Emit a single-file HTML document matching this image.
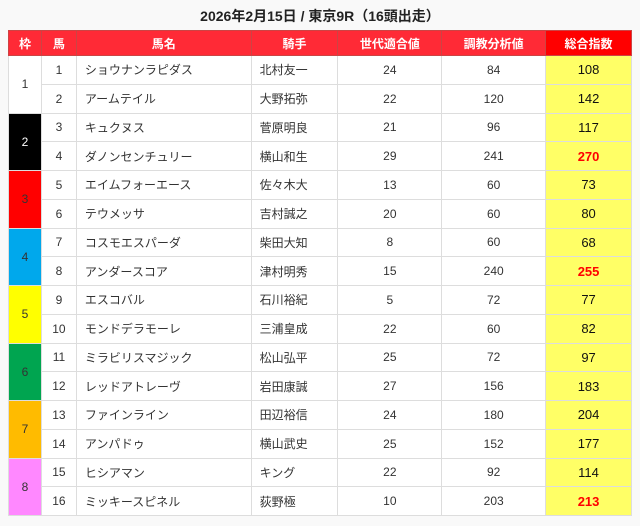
<!DOCTYPE html>
<html><head><meta charset="utf-8"><style>
body{margin:0;width:640px;height:526px;background:#f9f9f9;font-family:"Liberation Sans","Noto Sans CJK JP",sans-serif;overflow:hidden}
.t{position:absolute;top:6px;left:0;width:640px;text-align:center;font-size:14px;font-weight:bold;color:#222}
table{position:absolute;left:8px;top:30px;width:624px;border-collapse:collapse;font-size:12px;color:#333;background:#fff}
td,th{border:1px solid #ddd;height:27.75px;padding:0;text-align:center}
th{background:#ff2a36;color:#fff;height:24px;font-size:12px;border:1px solid #c44}
th.s{background:#f00}
td.n{text-align:left;padding-left:8px}
td.y{background:#ffff66;font-size:13px;color:#111}
td.r{color:#f00;font-weight:bold}
</style></head><body>
<div class="t">2026年2月15日 / 東京9R（16頭出走）</div>
<table>
<colgroup><col style="width:33px"><col style="width:35px"><col style="width:175px"><col style="width:87px"><col style="width:104px"><col style="width:104px"><col style="width:86px"></colgroup>
<tr><th>枠</th><th>馬</th><th>馬名</th><th>騎手</th><th>世代適合値</th><th>調教分析値</th><th class="s">総合指数</th></tr>
<tr><td rowspan="2" style="background:#fff">1</td><td>1</td><td class="n">ショウナンラピダス</td><td class="n">北村友一</td><td>24</td><td>84</td><td class="y">108</td></tr>
<tr><td>2</td><td class="n">アームテイル</td><td class="n">大野拓弥</td><td>22</td><td>120</td><td class="y">142</td></tr>
<tr><td rowspan="2" style="background:#000;color:#fff">2</td><td>3</td><td class="n">キュクヌス</td><td class="n">菅原明良</td><td>21</td><td>96</td><td class="y">117</td></tr>
<tr><td>4</td><td class="n">ダノンセンチュリー</td><td class="n">横山和生</td><td>29</td><td>241</td><td class="y r">270</td></tr>
<tr><td rowspan="2" style="background:#f00">3</td><td>5</td><td class="n">エイムフォーエース</td><td class="n">佐々木大</td><td>13</td><td>60</td><td class="y">73</td></tr>
<tr><td>6</td><td class="n">テウメッサ</td><td class="n">吉村誠之</td><td>20</td><td>60</td><td class="y">80</td></tr>
<tr><td rowspan="2" style="background:#00a8ec">4</td><td>7</td><td class="n">コスモエスパーダ</td><td class="n">柴田大知</td><td>8</td><td>60</td><td class="y">68</td></tr>
<tr><td>8</td><td class="n">アンダースコア</td><td class="n">津村明秀</td><td>15</td><td>240</td><td class="y r">255</td></tr>
<tr><td rowspan="2" style="background:#ffff00">5</td><td>9</td><td class="n">エスコバル</td><td class="n">石川裕紀</td><td>5</td><td>72</td><td class="y">77</td></tr>
<tr><td>10</td><td class="n">モンドデラモーレ</td><td class="n">三浦皇成</td><td>22</td><td>60</td><td class="y">82</td></tr>
<tr><td rowspan="2" style="background:#00a550">6</td><td>11</td><td class="n">ミラビリスマジック</td><td class="n">松山弘平</td><td>25</td><td>72</td><td class="y">97</td></tr>
<tr><td>12</td><td class="n">レッドアトレーヴ</td><td class="n">岩田康誠</td><td>27</td><td>156</td><td class="y">183</td></tr>
<tr><td rowspan="2" style="background:#ffbb00">7</td><td>13</td><td class="n">ファインライン</td><td class="n">田辺裕信</td><td>24</td><td>180</td><td class="y">204</td></tr>
<tr><td>14</td><td class="n">アンパドゥ</td><td class="n">横山武史</td><td>25</td><td>152</td><td class="y">177</td></tr>
<tr><td rowspan="2" style="background:#ff88ff">8</td><td>15</td><td class="n">ヒシアマン</td><td class="n">キング</td><td>22</td><td>92</td><td class="y">114</td></tr>
<tr><td>16</td><td class="n">ミッキースピネル</td><td class="n">荻野極</td><td>10</td><td>203</td><td class="y r">213</td></tr>
</table>
</body></html>
